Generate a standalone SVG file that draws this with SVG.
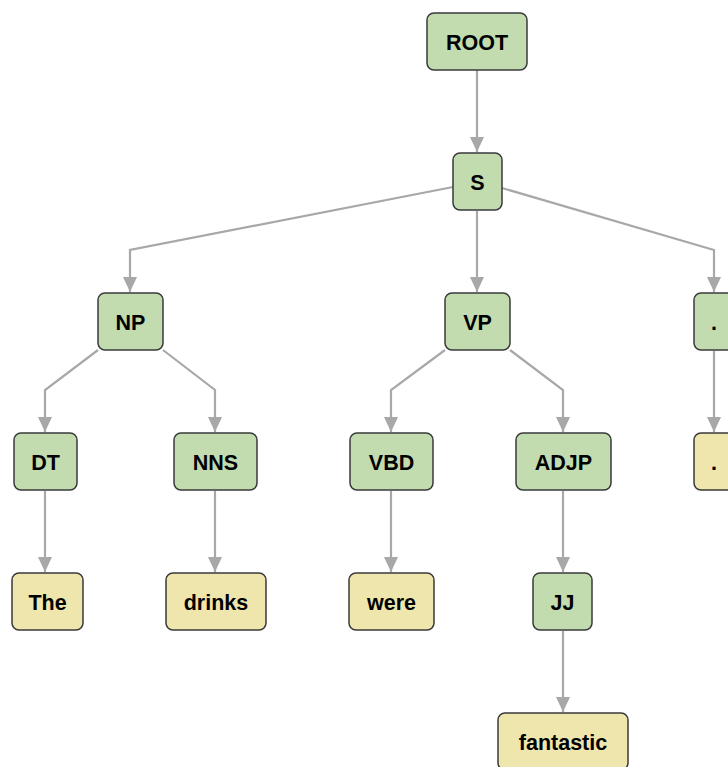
<svg xmlns="http://www.w3.org/2000/svg" width="728" height="767" viewBox="0 0 728 767">
<style>
.n rect{stroke:#3a3a3a;stroke-width:1.5}
.c rect{fill:#c2dcb0}
.w rect{fill:#eee6ac}
text{font-family:"Liberation Sans",Arial,sans-serif;font-weight:bold;font-size:21.5px;fill:#000;text-anchor:middle}
#edges path{fill:none;stroke:#a8a8a8;stroke-width:2.2;marker-end:url(#ah)}
</style>
<defs>
<marker id="ah" viewBox="0 0 15 14" refX="15" refY="7" markerWidth="15" markerHeight="14" markerUnits="userSpaceOnUse" orient="auto">
<path d="M0,0 L15,7 L0,14 Z" fill="#a8a8a8"/>
</marker>
</defs>
<rect width="728" height="767" fill="#fff"/>
<g id="edges">
<path d="M477,70 V152"/>
<path d="M453,187 L130,250 V292"/>
<path d="M477,211 V292"/>
<path d="M502,188 L714,250 V292"/>
<path d="M98,350 L45,390 V432"/>
<path d="M163,350 L215,390 V432"/>
<path d="M445,350 L391,390 V432"/>
<path d="M510,350 L563,390 V432"/>
<path d="M714,351 V432"/>
<path d="M45,491 V572"/>
<path d="M215,491 V572"/>
<path d="M391,491 V572"/>
<path d="M563,491 V572"/>
<path d="M563,631 V712"/>
</g>
<g id="n-root" class="n c"><rect x="427" y="13" width="100" height="57" rx="7"/><text x="477" y="50">ROOT</text></g>
<g id="n-s" class="n c"><rect x="453" y="153" width="49" height="57" rx="7"/><text x="477.5" y="190">S</text></g>
<g id="n-np" class="n c"><rect x="98" y="293" width="65" height="57" rx="7"/><text x="130.5" y="330">NP</text></g>
<g id="n-vp" class="n c"><rect x="445" y="293" width="65" height="57" rx="7"/><text x="477.5" y="330">VP</text></g>
<g id="n-punct" class="n c"><rect x="694" y="293" width="40" height="57" rx="7"/><text x="714" y="330">.</text></g>
<g id="n-dt" class="n c"><rect x="14" y="433" width="63" height="57" rx="7"/><text x="45.5" y="470">DT</text></g>
<g id="n-nns" class="n c"><rect x="174" y="433" width="83" height="57" rx="7"/><text x="215.5" y="470">NNS</text></g>
<g id="n-vbd" class="n c"><rect x="350" y="433" width="83" height="57" rx="7"/><text x="391.5" y="470">VBD</text></g>
<g id="n-adjp" class="n c"><rect x="516" y="433" width="95" height="57" rx="7"/><text x="563.5" y="470">ADJP</text></g>
<g id="n-dot" class="n w"><rect x="694" y="433" width="40" height="57" rx="7"/><text x="714" y="470">.</text></g>
<g id="n-the" class="n w"><rect x="12" y="573" width="71" height="57" rx="7"/><text x="47.5" y="610">The</text></g>
<g id="n-drinks" class="n w"><rect x="166" y="573" width="100" height="57" rx="7"/><text x="216" y="610">drinks</text></g>
<g id="n-were" class="n w"><rect x="349" y="573" width="85" height="57" rx="7"/><text x="391.5" y="610">were</text></g>
<g id="n-jj" class="n c"><rect x="533" y="573" width="59" height="57" rx="7"/><text x="562.5" y="610">JJ</text></g>
<g id="n-fantastic" class="n w"><rect x="498" y="713" width="130" height="57" rx="7"/><text x="563" y="750">fantastic</text></g>
</svg>
